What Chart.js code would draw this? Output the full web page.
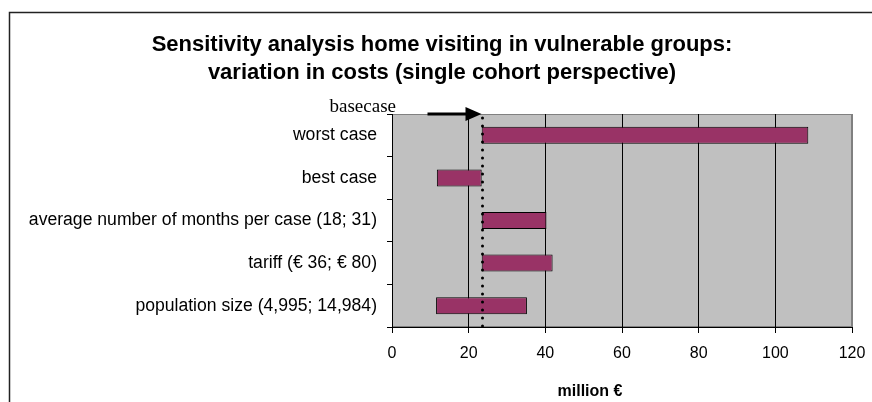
<!DOCTYPE html>
<html>
<head>
<meta charset="utf-8">
<script src="https://cdn.jsdelivr.net/npm/chart.js@4.4.1/dist/chart.umd.min.js"></script>
<style>
  html, body { margin: 0; padding: 0; background: #fff; }
</style>
</head>
<body>
<canvas id="chart" width="872" height="402"></canvas>
<script>
// tornado data: each scenario runs from its low to its high cost (million euro)
const categories = [
  "worst case",
  "best case",
  "average number of months per case (18; 31)",
  "tariff (\u20ac 36; \u20ac 80)",
  "population size (4,995; 14,984)"
];
const lowValues = [23.4, 11.7, 23.4, 23.4, 11.5];
const highValues = [108.6, 23.4, 40.3, 41.9, 35.2];
const baseCase = 23.4;
const xTickValues = [0, 20, 40, 60, 80, 100, 120];

const titleLines = [
  "Sensitivity analysis home visiting in vulnerable groups:",
  "variation in costs (single cohort perspective)"
];
const xAxisTitle = "million \u20ac";
const baseCaseLabel = "basecase";

const sans = "'Liberation Sans', Arial, sans-serif";
Chart.defaults.font.family = sans;
Chart.defaults.color = "#000";

const decorations = {
  id: "decorations",
  beforeDraw(chart) {
    const { ctx, chartArea: a } = chart;
    ctx.save();
    ctx.fillStyle = "#fff";
    ctx.fillRect(0, 0, chart.width, chart.height);

    // outer frame (left and top edges only)
    ctx.strokeStyle = "#222";
    ctx.lineWidth = 1.5;
    ctx.beginPath();
    ctx.moveTo(9.5, chart.height);
    ctx.lineTo(9.5, 12.5);
    ctx.lineTo(chart.width, 12.5);
    ctx.stroke();

    // two-line title, centred a little right of the canvas middle
    ctx.fillStyle = "#000";
    ctx.font = "bold 22px " + sans;
    ctx.textAlign = "center";
    ctx.textBaseline = "alphabetic";
    titleLines.forEach((line, i) => ctx.fillText(line, 442, 51 + i * 28));

    // grey plot area
    ctx.fillStyle = "#c0c0c0";
    ctx.fillRect(a.left, a.top, a.width, a.height);
    ctx.strokeStyle = "#808080";
    ctx.lineWidth = 1;
    ctx.strokeRect(a.left + 0.5, a.top + 0.5, a.width - 1, a.height - 1);
    ctx.restore();
  },
  afterDatasetsDraw(chart) {
    const { ctx, chartArea: a, scales } = chart;
    const bx = Math.round(scales.x.getPixelForValue(baseCase)) + 0.5;
    ctx.save();

    // dotted base case line
    ctx.strokeStyle = "#000";
    ctx.lineWidth = 3;
    ctx.lineCap = "round";
    ctx.setLineDash([0, 8]);
    ctx.beginPath();
    ctx.moveTo(bx, a.top + 4);
    ctx.lineTo(bx, a.bottom);
    ctx.stroke();
    ctx.setLineDash([]);

    // arrow pointing at the base case
    const ay = a.top;
    ctx.lineCap = "butt";
    ctx.beginPath();
    ctx.moveTo(bx - 55, ay);
    ctx.lineTo(bx - 14, ay);
    ctx.stroke();
    ctx.fillStyle = "#000";
    ctx.beginPath();
    ctx.moveTo(bx - 1, ay);
    ctx.lineTo(bx - 17, ay - 7);
    ctx.lineTo(bx - 17, ay + 7);
    ctx.closePath();
    ctx.fill();

    ctx.font = "19px 'Liberation Serif', 'Times New Roman', serif";
    ctx.textAlign = "right";
    ctx.textBaseline = "alphabetic";
    ctx.fillText(baseCaseLabel, a.left + 4, a.top - 2);

    // x axis title
    ctx.font = "bold 16px " + sans;
    ctx.textAlign = "center";
    ctx.textBaseline = "middle";
    ctx.fillText(xAxisTitle, 590, 392);
    ctx.restore();
  }
};

new Chart(document.getElementById("chart"), {
  type: "bar",
  data: {
    labels: categories,
    datasets: [{
      data: lowValues.map((v, i) => [v, highValues[i]]),
      backgroundColor: "#993366",
      borderColor: "#000",
      borderWidth: 1,
      borderSkipped: false,
      barPercentage: 0.4,
      categoryPercentage: 1
    }]
  },
  options: {
    indexAxis: "y",
    responsive: false,
    animation: false,
    layout: { padding: { left: 12, right: 20, top: 114, bottom: 0 } },
    plugins: {
      legend: { display: false },
      tooltip: { enabled: false },
      title: { display: false }
    },
    scales: {
      x: {
        type: "linear",
        min: 0,
        max: 120,
        afterBuildTicks: (scale) => { scale.ticks = xTickValues.map(v => ({ value: v })); },
        afterFit: (scale) => {
          scale.height = 75;
          scale.paddingLeft = 0;
          scale.paddingRight = 0;
        },
        ticks: { font: { size: 16 }, color: "#000", padding: 11 },
        grid: {
          color: (ctx) => (ctx.tick && ctx.tick.value === 120 ? "#808080" : "#000"),
          tickColor: "#000",
          tickLength: 6,
          lineWidth: 1
        },
        border: { color: "#000", width: 1 }
      },
      y: {
        afterFit: (scale) => { scale.width = 380; },
        ticks: { font: { size: 17.6 }, color: "#000", padding: 10 },
        grid: {
          offset: true,
          drawOnChartArea: false,
          color: "#000",
          tickLength: 5
        },
        border: { color: "#000", width: 1 }
      }
    }
  },
  plugins: [decorations]
});
</script>
</body>
</html>
